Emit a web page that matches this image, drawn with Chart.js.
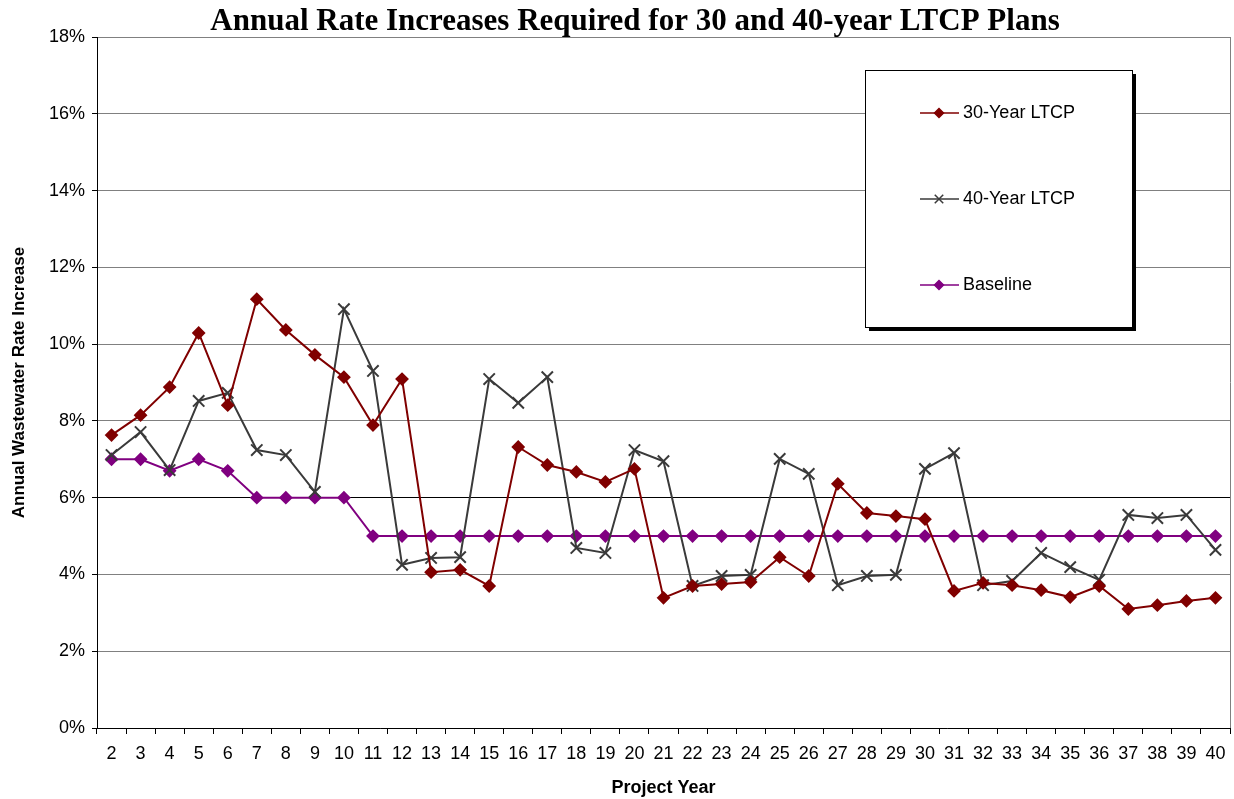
<!DOCTYPE html>
<html>
<head>
<meta charset="utf-8">
<script src="https://cdn.jsdelivr.net/npm/chart.js@4"></script>
<style>
html, body {margin:0; padding:0; background:#fff;}
#chart {display:block;}
</style>
</head>
<body>
<canvas id="chart" width="1234" height="799"></canvas>
<script>
// project years on the x axis
var years = [2,3,4,5,6,7,8,9,10,11,12,13,14,15,16,17,18,19,20,21,22,23,24,25,26,27,28,29,30,31,32,33,34,35,36,37,38,39,40];

// annual rate increase, %
var ltcp30 = [7.63,8.15,8.88,10.29,8.41,11.17,10.37,9.72,9.14,7.89,9.09,4.06,4.12,3.70,7.32,6.85,6.67,6.41,6.75,3.39,3.70,3.75,3.80,4.45,3.96,6.36,5.60,5.52,5.44,3.57,3.78,3.72,3.59,3.41,3.70,3.10,3.20,3.31,3.39];
var ltcp40 = [7.11,7.71,6.72,8.52,8.73,7.24,7.11,6.15,10.91,9.30,4.25,4.43,4.45,9.09,8.47,9.14,4.69,4.56,7.24,6.95,3.70,3.96,3.99,7.01,6.62,3.72,3.96,3.99,6.75,7.16,3.72,3.83,4.56,4.19,3.86,5.55,5.47,5.55,4.64];
var baseline = [7,7,6.7,7,6.7,6,6,6,6,5,5,5,5,5,5,5,5,5,5,5,5,5,5,5,5,5,5,5,5,5,5,5,5,5,5,5,5,5,5];

var yTicks = [0,2,4,6,8,10,12,14,16,18];

var titleText = "Annual Rate Increases Required for 30 and 40-year LTCP Plans";
var font = "'Liberation Sans', Arial, sans-serif";

// title, right border and boxed legend, drawn like the spreadsheet original
var boxLegend = {
  id: "boxLegend",
  afterDraw: (chart) => {
    var ctx = chart.ctx;
    var a = chart.chartArea;
    ctx.save();
    ctx.fillStyle = "#000";
    ctx.font = "bold 31px 'Liberation Serif', 'Times New Roman', serif";
    ctx.textAlign = "center";
    ctx.textBaseline = "middle";
    ctx.fillText(titleText, 635, 22);

    // right border of plot area
    ctx.strokeStyle = "#808080";
    ctx.lineWidth = 1;
    ctx.beginPath();
    ctx.moveTo(a.right + 0.5, a.top);
    ctx.lineTo(a.right + 0.5, a.bottom);
    ctx.stroke();

    var bx = 865, by = 70, bw = 267, bh = 257;
    ctx.fillStyle = "#000";
    ctx.fillRect(bx + 4, by + 4, bw, bh);
    ctx.fillStyle = "#fff";
    ctx.fillRect(bx, by, bw, bh);
    ctx.strokeStyle = "#000";
    ctx.strokeRect(bx + 0.5, by + 0.5, bw, bh);

    var rows = [113, 199, 285];
    chart.data.datasets.forEach((ds, i) => {
      var y = rows[i];
      ctx.strokeStyle = ds.borderColor;
      ctx.lineWidth = 1.5;
      ctx.beginPath();
      ctx.moveTo(920, y);
      ctx.lineTo(959, y);
      ctx.stroke();
      ctx.fillStyle = ds.pointBackgroundColor;
      ctx.strokeStyle = ds.pointBorderColor;
      Chart.helpers.drawPoint(ctx, {pointStyle: ds.pointStyle, radius: ds.legendRadius, rotation: 0, borderWidth: 1.5}, 939, y);
      ctx.fillStyle = "#000";
      ctx.font = "18px " + font;
      ctx.textBaseline = "middle";
      ctx.textAlign = "left";
      ctx.fillText(ds.label, 963, y);
    });
    ctx.restore();
  }
};

var chart = new Chart(document.getElementById("chart"), {
  type: "line",
  data: {
    labels: years,
    datasets: [
      {label: "30-Year LTCP", data: ltcp30, borderColor: "#800000", borderWidth: 2,
       pointStyle: "rectRot", pointRadius: 5.5, pointBackgroundColor: "#800000", pointBorderColor: "#800000", legendRadius: 4.5},
      {label: "40-Year LTCP", data: ltcp40, borderColor: "#3a3a3a", borderWidth: 2,
       pointStyle: "crossRot", pointRadius: 8, pointBorderWidth: 2, pointBackgroundColor: "#3a3a3a", pointBorderColor: "#3a3a3a", legendRadius: 6},
      {label: "Baseline", data: baseline, borderColor: "#800080", borderWidth: 2,
       pointStyle: "rectRot", pointRadius: 5.5, pointBackgroundColor: "#800080", pointBorderColor: "#800080", legendRadius: 4.5}
    ]
  },
  options: {
    responsive: false,
    animation: false,
    layout: {autoPadding: false, padding: {left: 0, right: 4, top: 37, bottom: 0}},
    plugins: {
      legend: {display: false},
      tooltip: {enabled: false},
      title: {display: false}
    },
    scales: {
      x: {
        offset: true,
        border: {color: "#000", width: 1},
        grid: {drawOnChartArea: false, drawTicks: true, tickLength: 6, color: "#000", offset: true},
        ticks: {color: "#000", font: {family: font, size: 18}, autoSkip: false, maxRotation: 0, padding: 9},
        title: {display: true, text: "Project Year", color: "#000", font: {family: font, size: 18, weight: "bold"}, padding: {top: 0, bottom: 0}},
        afterFit: (s) => { s.height = 71; s.paddingLeft = 0; s.paddingRight = 0; }
      },
      y: {
        min: 0,
        max: 18,
        border: {color: "#000", width: 1},
        afterBuildTicks: (s) => { s.ticks = yTicks.map(v => ({value: v})); },
        grid: {
          color: (c) => c.tick && c.tick.value === 6 ? "#000" : "#808080",
          tickColor: "#000",
          tickLength: 5
        },
        ticks: {color: "#000", font: {family: font, size: 18}, padding: 7, callback: (v) => v + "%"},
        title: {display: true, text: "Annual Wastewater Rate Increase", color: "#000", font: {family: font, size: 17, weight: "bold"}, padding: {top: 9, bottom: 0}},
        afterFit: (s) => { s.width = 97; }
      }
    }
  },
  plugins: [boxLegend]
});
</script>
</body>
</html>
